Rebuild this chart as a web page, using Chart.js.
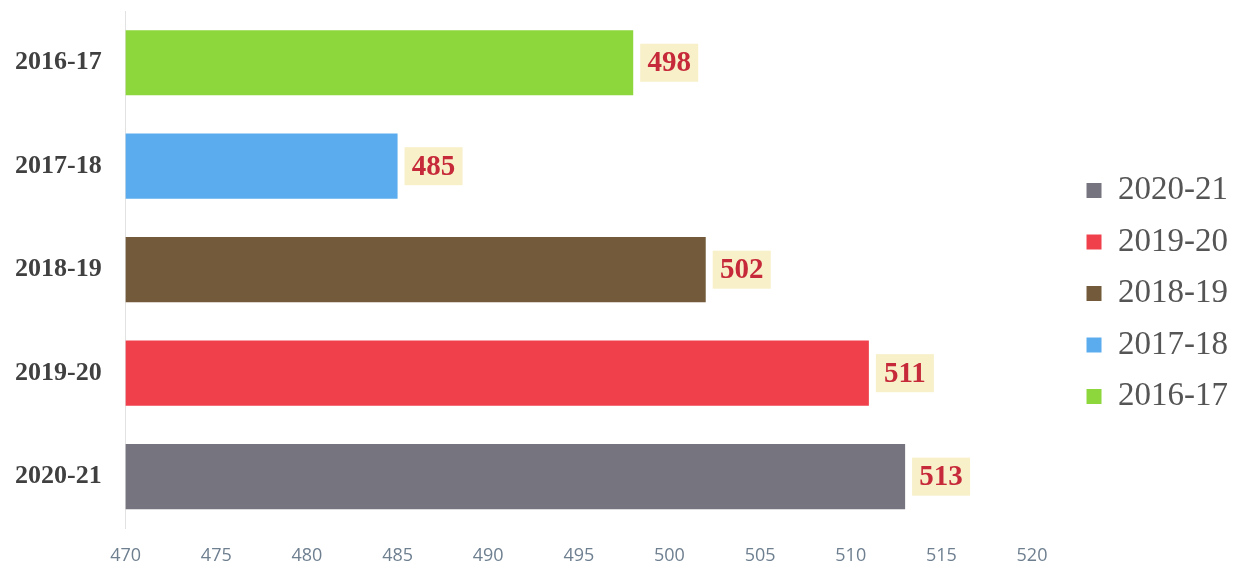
<!DOCTYPE html>
<html>
<head>
<meta charset="utf-8">
<script src="https://cdn.jsdelivr.net/npm/chart.js@4/dist/chart.umd.min.js"></script>
<style>
  html, body { margin: 0; padding: 0; background: #ffffff; }
  #wrap { width: 1244px; height: 568px; position: relative; }
</style>
</head>
<body>
<div id="wrap"><canvas id="c"></canvas></div>
<script>
const categories = ['2016-17', '2017-18', '2018-19', '2019-20', '2020-21'];
const values = [498, 485, 502, 511, 513];
const colors = ['#8dd63c', '#5aacee', '#725a3a', '#ef404b', '#75747f'];
const xTicks = [470, 475, 480, 485, 490, 495, 500, 505, 510, 515, 520];

const datasets = categories.map((cat, i) => ({
  label: cat,
  data: categories.map((c, j) => (j === i ? values[i] : null)),
  backgroundColor: colors[i],
  borderWidth: 0,
  grouped: false,
  categoryPercentage: 1,
  barPercentage: 0.63
}));

const LEGEND_SHIFT = 36;

const labelPlugin = {
  id: 'valueLabels',
  afterLayout(chart) {
    if (chart.legend) {
      chart.legend.left += LEGEND_SHIFT;
      chart.legend.right += LEGEND_SHIFT;
    }
  },
  afterDatasetsDraw(chart) {
    const ctx = chart.ctx;
    ctx.save();
    ctx.font = 'bold 29px "Liberation Serif", "Times New Roman", serif';
    ctx.textBaseline = 'middle';
    ctx.textAlign = 'center';
    chart.data.datasets.forEach((ds, i) => {
      const meta = chart.getDatasetMeta(i);
      meta.data.forEach((bar, j) => {
        const v = ds.data[j];
        if (v == null) return;
        const txt = String(v);
        const w = 58, h = 38;
        const x0 = bar.x + 7;
        const y0 = bar.y - h / 2;
        ctx.fillStyle = '#f8f0c8';
        ctx.fillRect(x0, y0, w, h);
        ctx.fillStyle = '#c62a3a';
        ctx.fillText(txt, x0 + w / 2, bar.y + 1);
      });
    });
    ctx.restore();
  }
};

new Chart(document.getElementById('c'), {
  type: 'bar',
  data: { labels: categories, datasets: datasets },
  plugins: [labelPlugin],
  options: {
    indexAxis: 'y',
    responsive: true,
    maintainAspectRatio: false,
    animation: false,
    layout: { padding: { top: 11, left: -1, right: 42, bottom: -8 } },
    plugins: {
      tooltip: { enabled: false },
      legend: {
        position: 'right',
        reverse: true,
        labels: {
          boxWidth: 15,
          boxHeight: 15,
          padding: 18.5,
          color: '#555555',
          font: { family: '"Liberation Serif", "Times New Roman", serif', size: 33 }
        }
      }
    },
    scales: {
      x: {
        min: 470,
        max: 520,
        afterBuildTicks(axis) { axis.ticks = xTicks.map(v => ({ value: v })); },
        afterFit(axis) { axis.paddingLeft = 0; },
        grid: { display: false },
        border: { display: false },
        ticks: {
          color: '#6e7f90',
          padding: 9,
          font: { family: '"Open Sans", "Liberation Sans", sans-serif', size: 18 }
        }
      },
      y: {
        afterFit(axis) { axis.paddingTop = 0; axis.paddingBottom = 0; },
        grid: { display: false },
        border: { display: true, color: '#e2e2e2', width: 1 },
        ticks: {
          color: '#404040',
          padding: 16,
          font: { family: '"Liberation Serif", "Times New Roman", serif', size: 26, weight: 'bold' }
        }
      }
    }
  }
});
</script>
</body>
</html>
